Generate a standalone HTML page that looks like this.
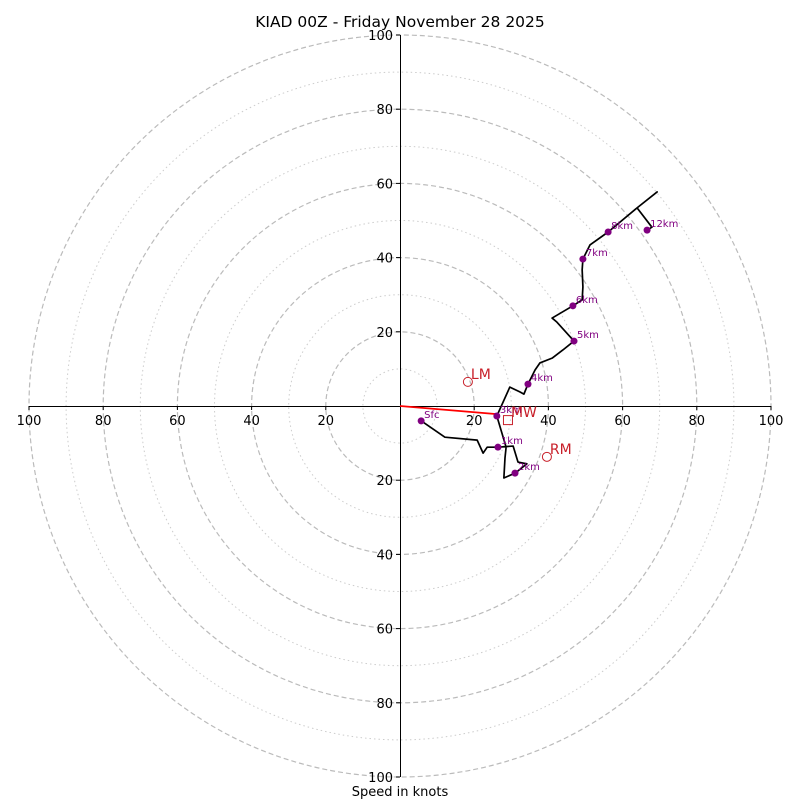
<!DOCTYPE html>
<html><head><meta charset="utf-8"><style>
body{margin:0;background:#fff}
svg{display:block;font-family:"DejaVu Sans","Liberation Sans",sans-serif}
</style></head><body>
<svg id="c" width="800" height="800" viewBox="0 0 800 800">
<text x="400" y="27" text-anchor="middle" font-size="15.5">KIAD 00Z - Friday November 28 2025</text>
<text x="400" y="796" text-anchor="middle" font-size="13">Speed in knots</text>
<g id="g"></g>
</svg>
<script>
const ringDashed=[20,40,60,80,100];
const ringDotted=[10,30,50,70,90];
const tickVals=[20,40,60,80,100];
const traceU=[5.7,12.1,20.8,22.4,23.5,26.4,30.5,31.8,34.2,31.0,28.0,28.3,28.6,26.1,29.6,32.3,33.4,34.5,36.4,37.7,41.0,43.9,46.9,42.3,41.0,46.6,49.1,49.3,49.1,49.3,51.2,56.1,63.9,69.3,63.9,67.9,66.6];
const traceV=[-4.0,-8.4,-9.2,-12.7,-11.1,-11.1,-10.8,-15.1,-15.6,-18.1,-19.4,-14.0,-11.1,-2.7,5.1,3.8,3.2,5.9,9.7,11.6,12.9,15.1,17.5,22.6,23.7,27.0,28.6,32.1,36.7,39.6,43.4,46.9,53.4,57.7,53.4,48.2,47.4];
const markLabels=["Sfc","1km","2km","3km","4km","5km","6km","7km","8km","12km"];
const markU=[5.7,26.4,31.0,26.1,34.5,46.9,46.6,49.3,56.1,66.6];
const markV=[-4.0,-11.1,-18.1,-2.7,5.9,17.5,27.0,39.6,46.9,47.4];
const lm=[18.3,6.5], rm=[39.6,-13.7], mw=[29.1,-3.8];
const cx=400,cy=406,k=3.71;
const X=u=>cx+u*k, Y=v=>cy-v*k;
const g=document.getElementById('g');
const NS='http://www.w3.org/2000/svg';
const RED='#c8202a';
function mk(t,a,p){const e=document.createElementNS(NS,t);for(const n in a)e.setAttribute(n,a[n]);(p||g).appendChild(e);return e;}
ringDotted.forEach(r=>{const e=mk('circle',{cx:cx,cy:cy,r:r*k,fill:'none',stroke:'#ccc','stroke-width':1,'stroke-dasharray':'1.5,3'});

});
ringDashed.forEach(r=>{const e=mk('circle',{cx:cx,cy:cy,r:r*k,fill:'none',stroke:'#bbb','stroke-width':1.2,'stroke-dasharray':'5,3'});

});
let ax=mk('line',{x1:X(-100),y1:cy+0.5,x2:X(100),y2:cy+0.5,stroke:'#000','stroke-width':1});


let ay=mk('line',{x1:cx+0.5,y1:Y(100),x2:cx+0.5,y2:Y(-100),stroke:'#000','stroke-width':1});


tickVals.forEach(t=>{[-1,1].forEach(s=>{
 mk('line',{x1:X(s*t),y1:cy,x2:X(s*t),y2:cy+4,stroke:'#000'});
 const tx=mk('text',{x:X(s*t),y:cy+19,'text-anchor':'middle','font-size':13});tx.textContent=t;
 
 
 mk('line',{x1:cx-4,y1:Y(s*t),x2:cx,y2:Y(s*t),stroke:'#000'});
 const ty=mk('text',{x:cx-7,y:Y(s*t)+5,'text-anchor':'end','font-size':13});ty.textContent=t;
 
 
});});
let sm=mk('line',{x1:cx,y1:cy,x2:X(markU[3]),y2:Y(markV[3]+0.5),stroke:'#f00','stroke-width':1.8});


let pts=traceU.map((u,i)=>X(u)+','+Y(traceV[i])).join(' ');
let tr=mk('polyline',{points:pts,fill:'none',stroke:'#000','stroke-width':1.7,'stroke-linejoin':'round'});


markU.forEach((u,i)=>{
 const c=mk('circle',{cx:X(u),cy:Y(markV[i]),r:3.5,fill:'#800080'});
 
 
 const t=mk('text',{x:X(u)+3,y:Y(markV[i])-3,'font-size':10,fill:'#800080'});t.textContent=markLabels[i];
 
 
});
[[lm,'LM'],[rm,'RM']].forEach(([p,n])=>{
 const c=mk('circle',{cx:X(p[0]),cy:Y(p[1]),r:4.5,fill:'none',stroke:RED,'stroke-width':1});
 
 
 const t=mk('text',{x:X(p[0])+3,y:Y(p[1])-3,'font-size':14,fill:RED});t.textContent=n;
 
 
});
let m=mk('rect',{x:X(mw[0])-4.5,y:Y(mw[1])-4.5,width:9,height:9,fill:'none',stroke:RED});


let mt=mk('text',{x:X(mw[0])+3,y:Y(mw[1])-3,'font-size':14,fill:RED});mt.textContent='MW';


</script>
</body></html>
